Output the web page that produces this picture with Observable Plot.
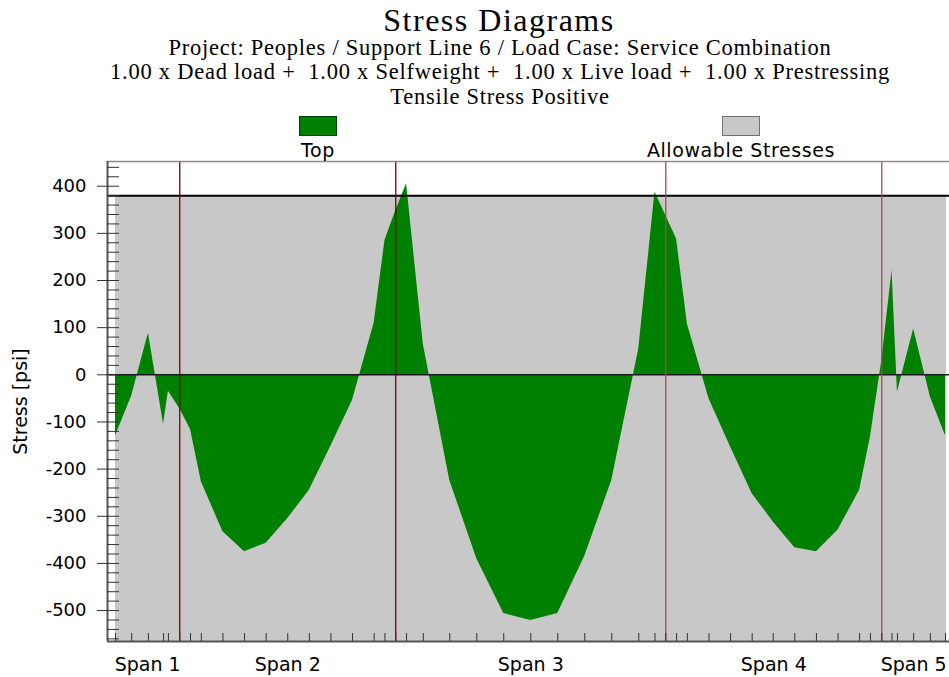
<!DOCTYPE html>
<html><head><meta charset="utf-8">
<script src="https://cdn.jsdelivr.net/npm/d3@7"></script>
<script src="https://cdn.jsdelivr.net/npm/@observablehq/plot@0.6"></script>
<style>
body{margin:0;background:#fff;}
#wrap{position:relative;width:949px;height:677px;overflow:hidden;background:#fff;}
.t{position:absolute;white-space:pre;transform:translateX(-50%);line-height:1;color:#000;}
.serif{font-family:"Liberation Serif","Times New Roman",serif;}
.sans{font-family:"DejaVu Sans",sans-serif;}
.sw{position:absolute;box-sizing:border-box;width:38px;height:20px;border:1px solid #333;}
#chart{position:absolute;left:0;top:160px;}
</style></head><body>
<div id="wrap"><div id="chart"></div></div>
<script>
// ---- data ----
const stations = [0, 3.0, 6.1, 8.9, 9.8, 11.9, 13.9, 15.9, 19.9, 23.9, 27.9, 31.9, 35.9, 39.9, 43.9, 47.9, 49.9, 51.9,
  53.9, 57.0, 61.9, 66.9, 71.9, 76.9, 81.9, 86.9, 91.9, 96.9, 99.9, 101.9,
  103.9, 105.9, 109.9, 113.9, 117.9, 121.8, 125.8, 129.8, 133.8, 137.8, 139.8, 141.9,
  143.8, 144.8, 147.8, 150.9, 153.7];
const topStress = [-130, -45, 88, -105, -35, -72, -116, -227, -333, -375, -357, -305, -245, -151, -54, 110, 285, 348,
  405, 65, -224, -390, -506, -521, -506, -385, -224, 55, 387, 338,
  288, 108, -51, -153, -252, -312, -367, -375, -329, -245, -132, 30,
  221, -37, 97, -47, -129];
const supports = [11.9, 51.9, 101.9, 141.9];
const spanEnds = [0, 11.9, 51.9, 101.9, 141.9, 153.7];
const spanLabels = ["Span 1", "Span 2", "Span 3", "Span 4", "Span 5"];
const allowTension = 380;
const allowCompression = -2250;
const allowExtent = [0, 153.9];
const yMajorTicks = d3.range(-500, 401, 100);
const yMinorTicks = d3.range(-560, 441, 20);
const titleText = "Stress Diagrams";
const subtitleLines = [
  "Project: Peoples / Support Line 6 / Load Case: Service Combination",
  "1.00 x Dead load +  1.00 x Selfweight +  1.00 x Live load +  1.00 x Prestressing",
  "Tensile Stress Positive"
];
const legendLabels = ["Top", "Allowable Stresses"];
const yLabel = "Stress [psi]";

// ---- layout / styles ----
const xDomain = [-1.48, 154.44];
const yDomain = [-565.6, 452.4];
const wrap = document.getElementById("wrap");
function addText(txt, cls, left, top, size, extra) {
  const d = document.createElement("div");
  d.className = "t " + cls;
  d.textContent = txt;
  d.style.left = left + "px";
  d.style.top = top + "px";
  d.style.fontSize = size + "px";
  if (extra) Object.assign(d.style, extra);
  wrap.appendChild(d);
}
addText(titleText, "serif", 499, 4, 32, {letterSpacing: "1.5px"});
const subTops = [36.7, 61.4, 85.6];
subtitleLines.forEach((s, i) => addText(s, "serif", 500, subTops[i], 22.5, {letterSpacing: "0.75px"}));
const legendCx = [318, 741];
const legendFill = ["#008000", "#c8c8c8"];
const legendBorder = ["#004000", "#707070"];
legendLabels.forEach((s, i) => {
  const sw = document.createElement("div");
  sw.className = "sw";
  sw.style.left = (legendCx[i] - 19) + "px";
  sw.style.top = "116px";
  sw.style.background = legendFill[i];
  sw.style.borderColor = legendBorder[i];
  wrap.appendChild(sw);
  addText(s, "sans", legendCx[i], 140.5, 19, {letterSpacing: "0.6px"});
});

const data = stations.map((s, i) => ({s, v: topStress[i]}));
const spans = spanLabels.map((label, i) => ({label, mid: (spanEnds[i] + spanEnds[i + 1]) / 2}));

const chart = Plot.plot({
  width: 949, height: 517,
  marginTop: 1, marginBottom: 36, marginLeft: 107, marginRight: 0,
  x: {domain: xDomain, axis: null},
  y: {domain: yDomain, axis: null},
  style: {background: "transparent", overflow: "visible", fontFamily: "DejaVu Sans", fontSize: "17px", color: "#000"},
  marks: [
    Plot.rect([{x1: allowExtent[0], x2: allowExtent[1], y1: allowCompression, y2: allowTension}],
      {x1: "x1", x2: "x2", y1: "y1", y2: "y2", fill: "#c8c8c8", clip: true}),
    Plot.areaY(data, {x: "s", y: "v", fill: "#008000"}),
    Plot.ruleY([0], {stroke: "#1a1a1a", strokeWidth: 1.5}),
    Plot.ruleY([allowTension], {stroke: "#000", strokeWidth: 2}),
    Plot.ruleX(supports, {stroke: (d, i) => i < 2 ? "#780000" : "#a24a4a", strokeWidth: 1.3}),
    Plot.ruleY([yDomain[1]], {stroke: "#8a8a8a", strokeWidth: 1.5}),
    Plot.ruleX([xDomain[0]], {stroke: "#555", strokeWidth: 2}),
    Plot.ruleY([yDomain[0]], {stroke: "#555", strokeWidth: 2}),
    Plot.tickX(stations, {x: d => d, insetTop: 472, stroke: "#333"}),
    Plot.tickY(yMinorTicks, {y: d => d, insetRight: 830, stroke: "#333"}),
    Plot.axisY(yMajorTicks, {anchor: "left", tickSize: 10, tickPadding: 11, tickFormat: d => String(d), label: null,
      stroke: "#333", fontSize: 18, fontFamily: "DejaVu Sans", letterSpacing: "1.3px"}),
    Plot.text(spans, {x: "mid", text: "label", frameAnchor: "bottom", dy: 29.5, fontSize: 19, letterSpacing: "0.8px"}),
    Plot.text([yLabel], {frameAnchor: "left", textAnchor: "middle", rotate: -90, dx: -87, fontSize: 19, letterSpacing: "1px"})
  ]
});
document.getElementById("chart").appendChild(chart);
</script>
</body></html>
